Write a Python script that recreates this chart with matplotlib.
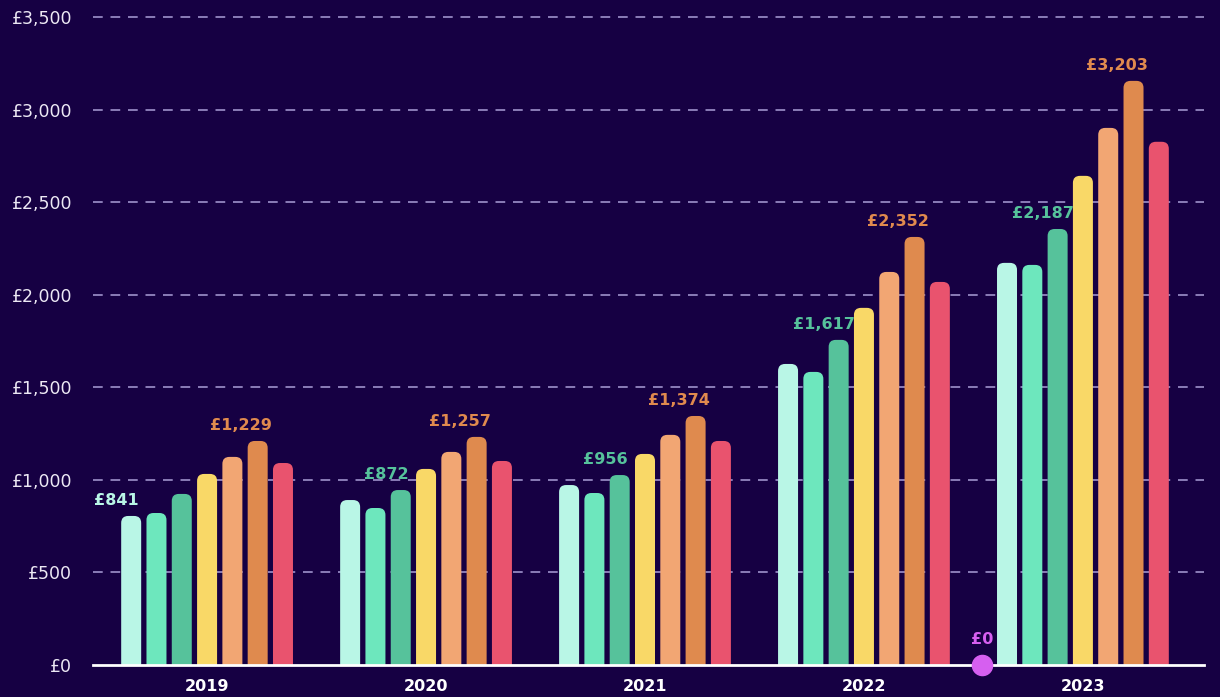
import matplotlib
matplotlib.use("Agg")
import matplotlib.pyplot as plt
from matplotlib.patches import FancyBboxPatch

# ---------------- data ----------------
years = ["2019", "2020", "2021", "2022", "2023"]
series_1 = [805, 891, 972, 1626, 2172]
series_2 = [821, 848, 929, 1583, 2161]
series_3 = [924, 945, 1026, 1756, 2355]
series_4 = [1032, 1059, 1140, 1929, 2642]
series_5 = [1124, 1151, 1243, 2123, 2901]
series_6 = [1210, 1232, 1345, 2312, 3155]
series_7 = [1091, 1102, 1210, 2069, 2826]
series = [series_1, series_2, series_3, series_4, series_5, series_6, series_7]

# annotations (text, series index) per year
low_labels = ["£841", "£872", "£956", "£1,617", "£2,187"]
low_label_series = [0, 2, 2, 2, 2]
high_labels = ["£1,229", "£1,257", "£1,374", "£2,352", "£3,203"]
high_label_series = [5, 5, 5, 5, 5]

# zero-value point in 2023
zero_year = "2023"
zero_value = 0
zero_label = "£0"

y_ticks = [0, 500, 1000, 1500, 2000, 2500, 3000, 3500]
y_tick_labels = ["£0", "£500", "£1,000", "£1,500", "£2,000", "£2,500", "£3,000", "£3,500"]

# ---------------- style ----------------
bg = "#160043"
colors = ["#b9f6e6", "#6de7bd", "#56c29b", "#f9d867", "#f2a673", "#df8a4e", "#e9536e"]
low_label_colors = ["#b9f6e6", "#56c29b", "#56c29b", "#56c29b", "#56c29b"]
high_label_color = "#e08a4e"
magenta = "#d65ff0"
grid_color = "#8b7db8"

W, H, DPI = 12.2, 6.97, 100
fig = plt.figure(figsize=(W, H), dpi=DPI, facecolor=bg)
left, right = 93 / 1220, 1204 / 1220
bottom, top = (697 - 665) / 697, (697 - 17) / 697
ax = fig.add_axes([left, bottom, right - left, top - bottom])
ax.set_facecolor(bg)

xmin, xmax = -0.521, 4.553
ymin, ymax = 0, 3500
ax.set_xlim(xmin, xmax)
ax.set_ylim(ymin, ymax)

ax_w_px = (right - left) * W * DPI
ax_h_px = (top - bottom) * H * DPI
xu_per_px = (xmax - xmin) / ax_w_px
yu_per_px = (ymax - ymin) / ax_h_px
asp = yu_per_px / xu_per_px

slot = 25.3 * xu_per_px
bar_w = 20 * xu_per_px
radius = 7 * xu_per_px

centers = list(range(len(years)))
n = len(series)
for si, vals in enumerate(series):
    off = (si - (n - 1) / 2) * slot
    for gi, v in enumerate(vals):
        x0 = centers[gi] + off - bar_w / 2
        ext = radius * asp
        p = FancyBboxPatch((x0, -ext), bar_w, v + ext,
                           boxstyle=f"round,pad=0,rounding_size={radius}",
                           mutation_aspect=asp, facecolor=colors[si],
                           edgecolor="none", zorder=3)
        ax.add_patch(p)

# value annotations
def bar_x(gi, si):
    return centers[gi] + (si - (n - 1) / 2) * slot

for gi in range(len(years)):
    si = low_label_series[gi]
    ax.annotate(low_labels[gi], (bar_x(gi, si), series[si][gi]),
                xytext=(-10.5, 11), textcoords="offset points",
                ha="center", va="center", color=low_label_colors[gi],
                fontsize=11.5, fontweight="bold", zorder=5)
    si = high_label_series[gi]
    ax.annotate(high_labels[gi], (bar_x(gi, si), series[si][gi]),
                xytext=(-12, 11), textcoords="offset points",
                ha="center", va="center", color=high_label_color,
                fontsize=11.5, fontweight="bold", zorder=5)

# zero point
zi = years.index(zero_year)
zx = centers[zi] - 4 * slot
ax.plot([zx], [zero_value], marker="o", markersize=14.5, color=magenta,
        clip_on=False, zorder=6, linestyle="none")
ax.annotate(zero_label, (zx, zero_value), xytext=(0, 18), textcoords="offset points",
            ha="center", va="center", color=magenta, fontsize=11.5, fontweight="bold",
            zorder=6)

# grid
for yt in y_ticks[1:]:
    ax.axhline(yt, color=grid_color, lw=1.4, ls=(0, (5, 4)), zorder=1, clip_on=False)

# spines
for s in ["left", "right", "top"]:
    ax.spines[s].set_visible(False)
ax.spines["bottom"].set_color("white")
ax.spines["bottom"].set_linewidth(2)
ax.spines["bottom"].set_zorder(4)

ax.set_yticks(y_ticks)
ax.set_yticklabels(y_tick_labels, color="#ece8f4", fontsize=12.5)
ax.set_xticks(centers)
ax.set_xticklabels(years, color="white", fontsize=11.5, fontweight="bold")
ax.tick_params(axis="y", length=0, pad=15)
ax.tick_params(axis="x", length=0, pad=10)

fig.savefig("out.png", dpi=DPI, facecolor=bg)
